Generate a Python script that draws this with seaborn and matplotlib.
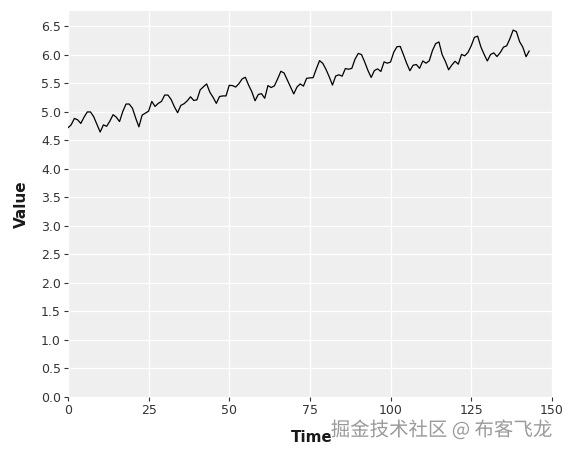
import matplotlib
matplotlib.use("Agg")
import matplotlib.pyplot as plt
import matplotlib.patheffects as pe
import seaborn as sns
import pandas as pd

# log of monthly series (144 points)
values = [
    4.7185, 4.7707, 4.8828, 4.8598, 4.7958, 4.9053, 4.9972, 4.9972, 4.9127, 4.7791, 4.6444, 4.7707,
    4.7449, 4.8363, 4.9488, 4.9053, 4.8283, 5.0039, 5.1358, 5.1358, 5.0626, 4.8903, 4.7362, 4.9416,
    4.9767, 5.0106, 5.1818, 5.0938, 5.1475, 5.1818, 5.2933, 5.2933, 5.2149, 5.0876, 4.9836, 5.1120,
    5.1417, 5.1930, 5.2627, 5.1985, 5.2095, 5.3845, 5.4381, 5.4889, 5.3423, 5.2523, 5.1475, 5.2679,
    5.2781, 5.2781, 5.4638, 5.4596, 5.4337, 5.4931, 5.5759, 5.6058, 5.4681, 5.3519, 5.1930, 5.3033,
    5.3181, 5.2364, 5.4596, 5.4250, 5.4553, 5.5759, 5.7104, 5.6802, 5.5568, 5.4337, 5.3132, 5.4337,
    5.4889, 5.4510, 5.5872, 5.5947, 5.5984, 5.7526, 5.8972, 5.8493, 5.7430, 5.6131, 5.4681, 5.6276,
    5.6490, 5.6240, 5.7589, 5.7462, 5.7621, 5.9243, 6.0234, 6.0039, 5.8721, 5.7236, 5.6021, 5.7236,
    5.7526, 5.7071, 5.8749, 5.8522, 5.8721, 6.0450, 6.1420, 6.1463, 6.0014, 5.8493, 5.7203, 5.8171,
    5.8289, 5.7621, 5.8916, 5.8522, 5.8944, 6.0753, 6.1964, 6.2246, 6.0014, 5.8833, 5.7366, 5.8201,
    5.8861, 5.8348, 6.0064, 5.9814, 6.0403, 6.1570, 6.3063, 6.3261, 6.1377, 6.0088, 5.8916, 6.0039,
    6.0331, 5.9687, 6.0379, 6.1334, 6.1570, 6.2823, 6.4329, 6.4069, 6.2305, 6.1334, 5.9661, 6.0684,
]
time = list(range(len(values)))
x_ticks = [0, 25, 50, 75, 100, 125, 150]
y_ticks = [0.0, 0.5, 1.0, 1.5, 2.0, 2.5, 3.0, 3.5, 4.0, 4.5, 5.0, 5.5, 6.0, 6.5]

df = pd.DataFrame({"Time": time, "Value": values})

sns.set_theme(style="darkgrid", rc={
    "axes.facecolor": "#EFEFEF",
    "grid.color": "white",
    "grid.linewidth": 0.9,
    "axes.edgecolor": "none",
})
plt.rcParams["font.family"] = ["DejaVu Sans", "Noto Sans CJK SC"]

fig = plt.figure(figsize=(5.66, 4.53), dpi=100)
ax = fig.add_axes([0.120, 0.124, 0.855, 0.852])
sns.lineplot(data=df, x="Time", y="Value", ax=ax, color="black", linewidth=0.9)

ax.set_xlim(0, 150)
ax.set_ylim(0, 6.77)
ax.set_xticks(x_ticks)
ax.set_xticklabels([str(t) for t in x_ticks])
ax.set_yticks(y_ticks)
ax.set_yticklabels([f"{t:.1f}" for t in y_ticks])
ax.tick_params(axis="both", which="both", length=3, width=0.8, color="#333333",
               labelsize=9, labelcolor="#333333", pad=2, bottom=True, left=True)
for s in ax.spines.values():
    s.set_visible(False)
ax.set_xlabel("Time", fontsize=11, fontweight="bold", labelpad=4, color="#1a1a1a")
ax.set_ylabel("Value", fontsize=11, fontweight="bold", labelpad=4, color="#1a1a1a")
ax.xaxis.set_label_coords(0.505, -0.085)
ax.yaxis.set_label_coords(-0.08, 0.5)

fig.text(0.977, 0.05, "掘金技术社区 @ 布客飞龙", ha="right", va="center", fontsize=14,
         color="#9a9a9a", family=["Noto Sans CJK SC", "DejaVu Sans"],
         path_effects=[pe.withStroke(linewidth=2, foreground="white")])

fig.savefig("out.png", dpi=100, facecolor="white")
